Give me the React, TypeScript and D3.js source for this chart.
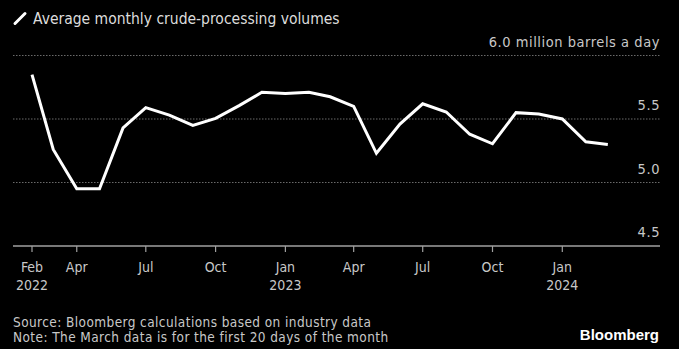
import React from "react";
import * as d3 from "d3";

const W = 679;
const H = 349;

const months: string[] = [
  "2022-02-01", "2022-03-01", "2022-04-01", "2022-05-01", "2022-06-01", "2022-07-01",
  "2022-08-01", "2022-09-01", "2022-10-01", "2022-11-01", "2022-12-01", "2023-01-01",
  "2023-02-01", "2023-03-01", "2023-04-01", "2023-05-01", "2023-06-01", "2023-07-01",
  "2023-08-01", "2023-09-01", "2023-10-01", "2023-11-01", "2023-12-01", "2024-01-01",
  "2024-02-01", "2024-03-01",
];
const volumes: number[] = [
  5.85, 5.26, 4.95, 4.95, 5.43, 5.59, 5.53, 5.45, 5.505, 5.605, 5.71, 5.70,
  5.71, 5.675, 5.60, 5.23, 5.46, 5.62, 5.555, 5.38, 5.305, 5.55, 5.54, 5.50,
  5.32, 5.30,
];
const tickDates: string[] = [
  "2022-02-01", "2022-04-01", "2022-07-01", "2022-10-01", "2023-01-01",
  "2023-04-01", "2023-07-01", "2023-10-01", "2024-01-01",
];
const tickMonthLabels: string[] = ["Feb", "Apr", "Jul", "Oct", "Jan", "Apr", "Jul", "Oct", "Jan"];
const tickYearLabels: string[] = ["2022", "", "", "", "2023", "", "", "", "2024"];
const yTicks: number[] = [4.5, 5.0, 5.5, 6.0];
const yTickLabels: string[] = ["4.5", "5.0", "5.5", "6.0 million barrels a day"];

const title = "Average monthly crude-processing volumes";
const source = "Source: Bloomberg calculations based on industry data";
const note = "Note: The March data is for the first 20 days of the month";

const FONT = "'DejaVu Sans Condensed', 'DejaVu Sans', sans-serif";

export default function App() {
  const parse = (s: string) => new Date(s + "T00:00:00Z");
  const x = d3
    .scaleUtc()
    .domain([parse("2022-02-01"), parse("2024-01-01")])
    .range([32, 562.3]);
  const y = d3.scaleLinear().domain([4.5, 6.0]).range([246, 55.5]);

  const plotLeft = 13;
  const plotRight = 660;

  const data = months.map((m, i) => ({ d: parse(m), v: volumes[i] }));
  const line = d3
    .line<{ d: Date; v: number }>()
    .x((p) => x(p.d))
    .y((p) => y(p.v))
    .curve(d3.curveLinear);

  return (
    <svg
      width={W}
      height={H}
      style={{ position: "absolute", left: 0, top: 0, display: "block" }}
      fontFamily={FONT}
    >
      <rect x={0} y={0} width={W} height={H} fill="#000" />

      {/* title */}
      <line x1={15} y1={23.5} x2={25} y2={13.5} stroke="#fff" strokeWidth={3} strokeLinecap="round" />
      <text x={33} y={24} fontSize={15.5} fill="#dcdcdc">
        {title}
      </text>

      {/* gridlines */}
      {yTicks.slice(1).map((t) => (
        <line
          key={"g" + t}
          x1={plotLeft}
          x2={plotRight}
          y1={y(t)}
          y2={y(t)}
          stroke="#6a6a6a"
          strokeWidth={1}
          strokeDasharray="1.5,1.5"
        />
      ))}

      {/* y labels */}
      {yTicks.map((t, i) => (
        <text
          key={"yl" + t}
          x={plotRight}
          y={y(t) - 9}
          fontSize={14.5}
          letterSpacing={0.55}
          fill="#c8c8c8"
          textAnchor="end"
        >
          {yTickLabels[i]}
        </text>
      ))}

      {/* baseline */}
      <line x1={plotLeft} x2={plotRight} y1={y(4.5)} y2={y(4.5)} stroke="#a0a0a0" strokeWidth={1.5} />

      {/* x ticks */}
      {tickDates.map((td, i) => {
        const tx = x(parse(td));
        return (
          <g key={"xt" + i}>
            <line x1={tx} x2={tx} y1={y(4.5)} y2={y(4.5) + 6} stroke="#a0a0a0" strokeWidth={1.2} />
            <text x={tx} y={271.5} fontSize={14} fill="#c8c8c8" textAnchor="middle">
              {tickMonthLabels[i]}
            </text>
            {tickYearLabels[i] && (
              <text x={tx} y={290} fontSize={14} fill="#c8c8c8" textAnchor="middle">
                {tickYearLabels[i]}
              </text>
            )}
          </g>
        );
      })}

      {/* line */}
      <path d={line(data) || ""} fill="none" stroke="#fff" strokeWidth={3} strokeLinejoin="miter" />

      {/* footer */}
      <text x={13} y={326.7} fontSize={13.5} letterSpacing={0.42} fill="#c8c8c8">
        {source}
      </text>
      <text x={13} y={341.7} fontSize={13.5} letterSpacing={0.42} fill="#c8c8c8">
        {note}
      </text>
      <text
        x={659}
        y={340}
        fontSize={15}
        fontWeight="bold"
        fill="#fff"
        textAnchor="end"
        fontFamily="'Liberation Sans', Arial, sans-serif"
      >
        Bloomberg
      </text>
    </svg>
  );
}
